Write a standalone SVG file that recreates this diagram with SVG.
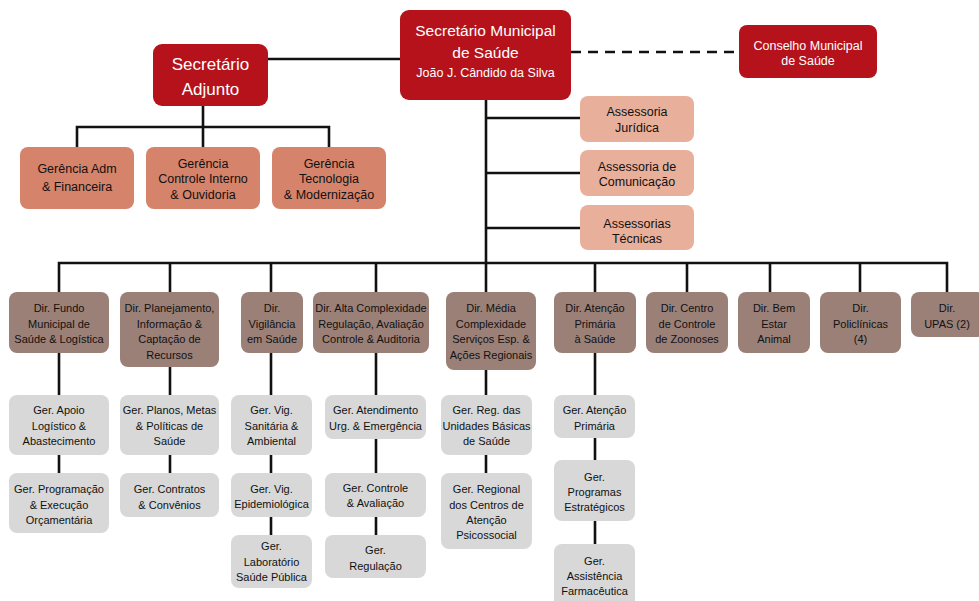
<svg xmlns="http://www.w3.org/2000/svg" width="979" height="601" viewBox="0 0 979 601">
<style>
.t{font-family:"Liberation Sans",Arial,sans-serif;text-anchor:middle;fill:#111}
.w{fill:#ffffff}
.red{fill:#B5121C}
.ger{fill:#D6836B}
.ass{fill:#E8AF9A}
.dir{fill:#9B8078}
.gray{fill:#D8D8D8}
.c{stroke:#111;stroke-width:2.6;fill:none}
.d{font-size:11px}
</style>
<rect width="979" height="601" fill="#ffffff"/>
<g id="connectors">
<path class="c" d="M268 59H400"/>
<path class="c" d="M571 52H739" stroke-dasharray="10 7"/>
<path class="c" d="M203 106V127M77 147V127H329V147M203 127V147"/>
<path class="c" d="M486 100V292M486 118H580M486 173H580M486 228H580"/>
<path class="c" d="M59 292V263H947V292M170 263V292M271 263V292M376 263V292M595 263V292M687 263V292M770 263V292M860 263V292"/>
<path class="c" d="M59 353V395M59 455V473"/>
<path class="c" d="M170 367V395M170 455V473"/>
<path class="c" d="M271 353V395M271 455V473M271 517V535"/>
<path class="c" d="M376 353V395M376 439V473M376 517V535"/>
<path class="c" d="M486 370V395M486 455V473"/>
<path class="c" d="M595 353V395M595 438V460M595 521V544"/>
</g>
<g id="sec-municipal"><rect class="red" x="400" y="10" width="171" height="90" rx="9"/>
<text class="t w" x="485.5" y="35.5" font-size="15.5">Secretário Municipal</text>
<text class="t w" x="485.5" y="57.5" font-size="15.5">de Saúde</text>
<text class="t w" x="485.5" y="76.5" font-size="12.5">João J. Cândido da Silva</text></g>
<g id="sec-adjunto"><rect class="red" x="153" y="44" width="115" height="62" rx="9"/>
<text class="t w" x="210.5" y="70" font-size="17">Secretário</text>
<text class="t w" x="210.5" y="95" font-size="17">Adjunto</text></g>
<g id="conselho"><rect class="red" x="739" y="25" width="138" height="53" rx="8"/>
<text class="t w" x="808" y="49.5" font-size="12.5">Conselho Municipal</text>
<text class="t w" x="808" y="64.5" font-size="12.5">de Saúde</text></g>
<g id="ger-adm"><rect class="ger" x="20" y="147" width="114" height="62" rx="8"/>
<text class="t" x="77" y="172.5" font-size="12.5">Gerência Adm</text>
<text class="t" x="77" y="190.5" font-size="12.5">&amp; Financeira</text></g>
<g id="ger-controle"><rect class="ger" x="146" y="147" width="114" height="62" rx="8"/>
<text class="t" x="203" y="167.5" font-size="12.5">Gerência</text>
<text class="t" x="203" y="182.5" font-size="12.5">Controle Interno</text>
<text class="t" x="203" y="198.5" font-size="12.5">&amp; Ouvidoria</text></g>
<g id="ger-tec"><rect class="ger" x="272" y="147" width="114" height="62" rx="8"/>
<text class="t" x="329" y="167.5" font-size="12.5">Gerência</text>
<text class="t" x="329" y="182.5" font-size="12.5">Tecnologia</text>
<text class="t" x="329" y="198.5" font-size="12.5">&amp; Modernização</text></g>
<g id="ass-juridica"><rect class="ass" x="580" y="96" width="114" height="46" rx="8"/>
<text class="t" x="637" y="115.5" font-size="12.5">Assessoria</text>
<text class="t" x="637" y="131.5" font-size="12.5">Jurídica</text></g>
<g id="ass-com"><rect class="ass" x="580" y="150" width="114" height="46" rx="8"/>
<text class="t" x="637" y="170.5" font-size="12.5">Assessoria de</text>
<text class="t" x="637" y="185.5" font-size="12.5">Comunicação</text></g>
<g id="ass-tec"><rect class="ass" x="580" y="205" width="114" height="45" rx="8"/>
<text class="t" x="637" y="227.5" font-size="12.5">Assessorias</text>
<text class="t" x="637" y="242.5" font-size="12.5">Técnicas</text></g>
<g id="dir-fundo"><rect class="dir" x="9" y="292" width="100" height="61" rx="8"/>
<text class="t d" x="59" y="312">Dir. Fundo</text>
<text class="t d" x="59" y="327.5">Municipal de</text>
<text class="t d" x="59" y="343">Saúde &amp; Logística</text></g>
<g id="dir-plan"><rect class="dir" x="120" y="292" width="99" height="75" rx="8"/>
<text class="t d" x="169.5" y="312">Dir. Planejamento,</text>
<text class="t d" x="169.5" y="327.5">Informação &amp;</text>
<text class="t d" x="169.5" y="343">Captação de</text>
<text class="t d" x="169.5" y="358.5">Recursos</text></g>
<g id="dir-vig"><rect class="dir" x="241" y="292" width="62" height="61" rx="8"/>
<text class="t d" x="272" y="312">Dir.</text>
<text class="t d" x="272" y="327.5">Vigilância</text>
<text class="t d" x="272" y="343">em Saúde</text></g>
<g id="dir-alta"><rect class="dir" x="313" y="292" width="116" height="61" rx="8"/>
<text class="t d" x="371" y="312">Dir. Alta Complexidade</text>
<text class="t d" x="371" y="327.5">Regulação, Avaliação</text>
<text class="t d" x="371" y="343">Controle &amp; Auditoria</text></g>
<g id="dir-media"><rect class="dir" x="446" y="292" width="90" height="78" rx="8"/>
<text class="t d" x="491" y="312">Dir. Média</text>
<text class="t d" x="491" y="327.5">Complexidade</text>
<text class="t d" x="491" y="343">Serviços Esp. &amp;</text>
<text class="t d" x="491" y="358.5">Ações Regionais</text></g>
<g id="dir-atencao"><rect class="dir" x="554" y="292" width="82" height="61" rx="8"/>
<text class="t d" x="595" y="312">Dir. Atenção</text>
<text class="t d" x="595" y="327.5">Primária</text>
<text class="t d" x="595" y="343">à Saúde</text></g>
<g id="dir-zoonoses"><rect class="dir" x="646" y="292" width="82" height="61" rx="8"/>
<text class="t d" x="687" y="312">Dir. Centro</text>
<text class="t d" x="687" y="327.5">de Controle</text>
<text class="t d" x="687" y="343">de Zoonoses</text></g>
<g id="dir-bem"><rect class="dir" x="738" y="292" width="72" height="61" rx="8"/>
<text class="t d" x="774" y="312">Dir. Bem</text>
<text class="t d" x="774" y="327.5">Estar</text>
<text class="t d" x="774" y="343">Animal</text></g>
<g id="dir-poli"><rect class="dir" x="820" y="292" width="81" height="61" rx="8"/>
<text class="t d" x="860.5" y="312">Dir.</text>
<text class="t d" x="860.5" y="327.5">Policlínicas</text>
<text class="t d" x="860.5" y="343">(4)</text></g>
<g id="dir-upas"><rect class="dir" x="911" y="292" width="74" height="45" rx="8"/>
<text class="t d" x="947" y="312">Dir.</text>
<text class="t d" x="947" y="327.5">UPAS (2)</text></g>
<g id="ger-apoio"><rect class="gray" x="9" y="395" width="100" height="60" rx="8"/>
<text class="t d" x="59" y="414">Ger. Apoio</text>
<text class="t d" x="59" y="430">Logístico &amp;</text>
<text class="t d" x="59" y="445">Abastecimento</text></g>
<g id="ger-prog"><rect class="gray" x="9" y="473" width="100" height="60" rx="8"/>
<text class="t d" x="59" y="493">Ger. Programação</text>
<text class="t d" x="59" y="509">&amp; Execução</text>
<text class="t d" x="59" y="524">Orçamentária</text></g>
<g id="ger-planos"><rect class="gray" x="120" y="395" width="99" height="60" rx="8"/>
<text class="t d" x="169.5" y="414">Ger. Planos, Metas</text>
<text class="t d" x="169.5" y="430">&amp; Políticas de</text>
<text class="t d" x="169.5" y="445">Saúde</text></g>
<g id="ger-contratos"><rect class="gray" x="120" y="473" width="99" height="44" rx="8"/>
<text class="t d" x="169.5" y="493">Ger. Contratos</text>
<text class="t d" x="169.5" y="509">&amp; Convênios</text></g>
<g id="ger-vig-san"><rect class="gray" x="231" y="395" width="81" height="60" rx="8"/>
<text class="t d" x="271.5" y="414">Ger. Vig.</text>
<text class="t d" x="271.5" y="430">Sanitária &amp;</text>
<text class="t d" x="271.5" y="445">Ambiental</text></g>
<g id="ger-vig-epi"><rect class="gray" x="231" y="473" width="81" height="44" rx="8"/>
<text class="t d" x="271.5" y="493">Ger. Vig.</text>
<text class="t d" x="271.5" y="508">Epidemiológica</text></g>
<g id="ger-lab"><rect class="gray" x="231" y="535" width="81" height="53" rx="8"/>
<text class="t d" x="271.5" y="550">Ger.</text>
<text class="t d" x="271.5" y="566">Laboratório</text>
<text class="t d" x="271.5" y="581">Saúde Pública</text></g>
<g id="ger-atend"><rect class="gray" x="325" y="395" width="101" height="44" rx="8"/>
<text class="t d" x="375.5" y="414">Ger. Atendimento</text>
<text class="t d" x="375.5" y="430">Urg. &amp; Emergência</text></g>
<g id="ger-controle-av"><rect class="gray" x="325" y="473" width="101" height="44" rx="8"/>
<text class="t d" x="375.5" y="492">Ger. Controle</text>
<text class="t d" x="375.5" y="507">&amp; Avaliação</text></g>
<g id="ger-regulacao"><rect class="gray" x="325" y="535" width="101" height="43" rx="8"/>
<text class="t d" x="375.5" y="554">Ger.</text>
<text class="t d" x="375.5" y="570">Regulação</text></g>
<g id="ger-reg-ubs"><rect class="gray" x="441" y="395" width="91" height="60" rx="8"/>
<text class="t d" x="486.5" y="414">Ger. Reg. das</text>
<text class="t d" x="486.5" y="430">Unidades Básicas</text>
<text class="t d" x="486.5" y="445">de Saúde</text></g>
<g id="ger-caps"><rect class="gray" x="441" y="473" width="91" height="76" rx="8"/>
<text class="t d" x="486.5" y="493">Ger. Regional</text>
<text class="t d" x="486.5" y="509">dos Centros de</text>
<text class="t d" x="486.5" y="524">Atenção</text>
<text class="t d" x="486.5" y="539">Psicossocial</text></g>
<g id="ger-atencao"><rect class="gray" x="554" y="395" width="81" height="43" rx="8"/>
<text class="t d" x="594.5" y="414">Ger. Atenção</text>
<text class="t d" x="594.5" y="430">Primária</text></g>
<g id="ger-programas"><rect class="gray" x="554" y="460" width="81" height="61" rx="8"/>
<text class="t d" x="594.5" y="481">Ger.</text>
<text class="t d" x="594.5" y="496">Programas</text>
<text class="t d" x="594.5" y="511">Estratégicos</text></g>
<g id="ger-farm"><rect class="gray" x="554" y="544" width="81" height="64" rx="8"/>
<text class="t d" x="594.5" y="565">Ger.</text>
<text class="t d" x="594.5" y="580">Assistência</text>
<text class="t d" x="594.5" y="595">Farmacêutica</text></g>
</svg>
